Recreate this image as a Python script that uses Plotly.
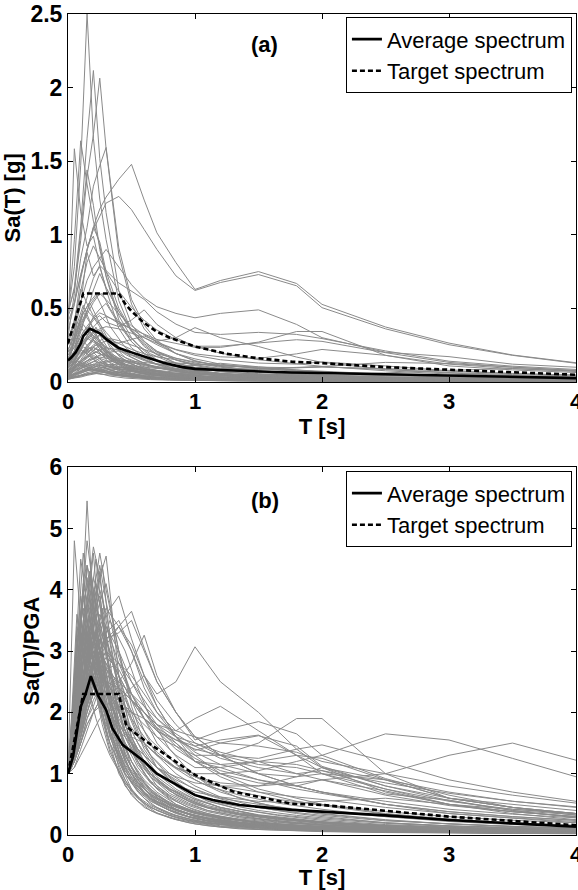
import plotly.graph_objects as go

FONT = "Liberation Sans, Arial, Helvetica, sans-serif"
GRAY = "#8a8a8a"

# ---------------- data ----------------
PERIODS = [0, 0.05, 0.1, 0.15, 0.2, 0.25, 0.3, 0.4, 0.5, 0.6, 0.7, 0.85,
           1.0, 1.2, 1.5, 1.8, 2.0, 2.5, 3.0, 3.5, 4.0]

# peak ground acceleration of each record [g]
PGA = [0.46, 0.46, 0.48, 0.42, 0.405, 0.45, 0.12, 0.18, 0.08, 0.06,
       0.35, 0.30, 0.33, 0.15, 0.25, 0.20, 0.16, 0.14, 0.12, 0.10,
       0.09, 0.08, 0.07, 0.06, 0.05, 0.05, 0.04, 0.04, 0.03, 0.03,
       0.02, 0.025, 0.11, 0.13, 0.10, 0.09, 0.07, 0.06, 0.15, 0.20,
       0.22, 0.28, 0.30, 0.05, 0.035, 0.08, 0.025, 0.02]

# normalized spectra Sa(T)/PGA of each record, sampled at PERIODS
NORMALIZED_SPECTRA = [
    [1, 1.7, 3.2, 5.45, 3.6, 2.7, 2.1, 1.2, 0.75, 0.52, 0.4, 0.28, 0.21, 0.15, 0.11, 0.085, 0.07, 0.05, 0.04, 0.03, 0.025],
    [1, 1.4, 2.3, 3.6, 4.6, 3.3, 2.5, 1.35, 0.85, 0.6, 0.45, 0.32, 0.24, 0.18, 0.12, 0.09, 0.08, 0.06, 0.045, 0.035, 0.03],
    [1, 1.3, 2.0, 2.9, 3.5, 4.3, 3.3, 1.8, 1.1, 0.75, 0.55, 0.4, 0.3, 0.22, 0.15, 0.11, 0.09, 0.065, 0.05, 0.04, 0.035],
    [1, 2.3, 3.9, 3.2, 2.6, 2.2, 1.7, 1.0, 0.65, 0.45, 0.35, 0.25, 0.18, 0.13, 0.09, 0.07, 0.06, 0.045, 0.035, 0.03, 0.025],
    [1, 1.3, 1.8, 2.2, 2.6, 2.9, 3.1, 3.4, 3.65, 3.05, 2.5, 2.0, 1.55, 1.7, 1.85, 1.65, 1.3, 0.92, 0.65, 0.45, 0.32],
    [1, 1.2, 1.6, 2.0, 2.3, 2.5, 2.7, 2.8, 2.6, 2.3, 2.0, 1.6, 1.38, 1.5, 1.62, 1.45, 1.12, 0.8, 0.56, 0.4, 0.28],
    [1, 1.2, 1.5, 1.8, 2.0, 2.2, 2.3, 2.2, 2.4, 2.6, 2.3, 2.5, 3.07, 2.5, 2.0, 1.4, 1.1, 0.7, 0.5, 0.35, 0.25],
    [1, 1.3, 1.7, 2.1, 2.4, 2.6, 2.5, 2.2, 2.0, 1.8, 1.6, 1.45, 1.3, 1.3, 1.5, 1.9, 1.9, 1.0, 0.6, 0.45, 0.35],
    [1, 1.2, 1.5, 1.8, 2.0, 2.1, 2.0, 1.8, 1.6, 1.5, 1.3, 1.1, 1.0, 1.0, 1.05, 1.2, 1.3, 1.65, 1.55, 1.25, 0.95],
    [1, 1.3, 1.6, 2.0, 2.3, 2.2, 2.0, 1.7, 1.5, 1.3, 1.1, 0.95, 0.85, 0.8, 0.8, 0.85, 0.9, 1.0, 1.3, 1.5, 1.22],
    [1, 1.5, 2.4, 3.0, 3.8, 4.2, 4.55, 2.6, 1.6, 1.1, 0.8, 0.55, 0.4, 0.3, 0.2, 0.15, 0.12, 0.09, 0.07, 0.05, 0.04],
    [1, 2.0, 3.4, 4.8, 4.0, 3.0, 2.4, 1.5, 1.0, 0.7, 0.5, 0.35, 0.26, 0.19, 0.13, 0.1, 0.08, 0.06, 0.045, 0.035, 0.03],
    [1, 4.8, 3.5, 2.8, 3.0, 2.4, 1.9, 1.1, 0.7, 0.5, 0.36, 0.26, 0.2, 0.14, 0.1, 0.08, 0.065, 0.05, 0.04, 0.03, 0.025],
    [1, 1.4, 1.9, 2.4, 2.8, 3.0, 2.7, 2.5, 2.8, 3.26, 2.6, 2.0, 1.6, 1.3, 1.0, 0.8, 0.7, 0.5, 0.35, 0.27, 0.2],
    [1, 1.6, 2.8, 3.6, 4.2, 3.8, 3.0, 2.0, 1.4, 1.0, 0.75, 0.5, 0.38, 0.28, 0.2, 0.15, 0.12, 0.09, 0.07, 0.05, 0.04],
    [1, 1.8, 2.6, 4.4, 3.6, 3.9, 3.2, 2.4, 1.7, 1.3, 1.0, 0.75, 0.58, 0.45, 0.32, 0.24, 0.2, 0.14, 0.1, 0.08, 0.06],
    [1, 1.5, 2.2, 3.0, 3.9, 4.6, 4.0, 3.0, 2.2, 1.7, 1.3, 1.0, 0.8, 0.62, 0.45, 0.35, 0.3, 0.2, 0.15, 0.11, 0.09],
    [1, 2.5, 4.5, 3.8, 3.2, 2.8, 2.4, 1.7, 1.2, 0.9, 0.7, 0.5, 0.38, 0.28, 0.2, 0.15, 0.12, 0.08, 0.06, 0.045, 0.035],
    [1, 1.4, 2.0, 2.6, 3.1, 3.5, 3.7, 3.4, 3.0, 2.5, 2.1, 1.6, 1.3, 1.0, 0.75, 0.6, 0.5, 0.35, 0.26, 0.2, 0.16],
    [1, 1.3, 1.8, 2.4, 2.9, 3.2, 3.0, 2.6, 2.2, 1.9, 1.7, 1.5, 1.2, 1.1, 0.9, 0.75, 0.68, 0.5, 0.38, 0.3, 0.24],
    [1, 1.6, 2.5, 3.3, 3.0, 2.7, 2.3, 1.8, 1.5, 1.3, 1.1, 0.9, 0.75, 0.6, 0.5, 0.42, 0.38, 0.3, 0.22, 0.17, 0.14],
    [1, 1.2, 1.6, 2.0, 2.4, 2.7, 2.9, 2.7, 2.3, 2.0, 1.8, 1.6, 1.5, 1.35, 1.2, 1.0, 0.9, 0.65, 0.48, 0.38, 0.3],
    [1, 1.5, 2.0, 2.7, 3.3, 3.0, 2.5, 1.9, 1.5, 1.2, 1.0, 0.82, 0.7, 0.62, 0.55, 0.52, 0.55, 0.6, 0.5, 0.42, 0.35],
    [1, 1.3, 1.7, 2.2, 2.6, 3.0, 3.3, 3.5, 3.0, 2.4, 2.0, 1.7, 1.9, 2.1, 1.7, 1.3, 1.1, 0.8, 0.6, 0.5, 0.4],
    [1, 1.1, 1.4, 1.7, 2.0, 2.2, 2.3, 2.4, 2.2, 2.0, 1.8, 1.7, 1.6, 1.5, 1.45, 1.35, 1.2, 1.0, 0.8, 0.65, 0.52],
    [1, 2.0, 3.0, 4.2, 3.4, 2.8, 2.2, 1.5, 1.0, 0.75, 0.6, 0.45, 0.35, 0.28, 0.2, 0.16, 0.14, 0.1, 0.08, 0.06, 0.05],
    [1, 1.4, 2.2, 2.8, 3.5, 4.0, 3.6, 2.6, 1.9, 1.4, 1.1, 0.85, 0.66, 0.52, 0.4, 0.32, 0.28, 0.2, 0.15, 0.12, 0.1],
    [1, 1.2, 1.5, 1.9, 2.1, 2.4, 2.6, 2.5, 2.3, 2.1, 1.9, 1.65, 1.45, 1.25, 1.1, 1.0, 1.05, 0.85, 0.68, 0.55, 0.46],
    [1, 1.7, 2.6, 3.2, 4.0, 3.5, 2.9, 2.2, 1.6, 1.2, 0.95, 0.72, 0.58, 0.45, 0.33, 0.26, 0.22, 0.16, 0.12, 0.09, 0.07],
    [1, 1.3, 1.9, 2.5, 2.8, 3.1, 3.4, 3.0, 2.5, 2.1, 1.8, 1.5, 1.25, 1.05, 0.9, 0.8, 0.7, 0.55, 0.42, 0.34, 0.28],
    [1, 1.5, 2.0, 2.6, 3.0, 2.6, 2.4, 2.0, 1.7, 1.5, 1.3, 1.1, 0.95, 0.8, 0.7, 0.62, 0.58, 0.45, 0.35, 0.28, 0.22],
    [1, 1.2, 1.6, 2.1, 2.5, 2.9, 3.2, 3.4, 3.1, 2.6, 2.2, 1.8, 1.5, 1.3, 1.15, 1.1, 1.0, 0.75, 0.55, 0.42, 0.35],
    [1, 1.9, 3.6, 4.4, 4.0, 3.4, 2.6, 1.6, 1.1, 0.8, 0.6, 0.42, 0.32, 0.24, 0.17, 0.13, 0.11, 0.08, 0.06, 0.05, 0.04],
    [1, 1.4, 2.1, 2.7, 3.4, 3.8, 4.1, 3.0, 2.1, 1.5, 1.1, 0.8, 0.6, 0.45, 0.32, 0.25, 0.21, 0.15, 0.11, 0.085, 0.07],
    [1, 1.3, 1.7, 2.1, 2.5, 2.8, 3.0, 2.8, 2.5, 2.2, 1.9, 1.6, 1.35, 1.15, 1.0, 0.95, 1.0, 0.9, 0.7, 0.55, 0.45],
    [1, 1.6, 2.4, 2.2, 2.6, 2.4, 2.0, 1.5, 1.1, 0.85, 0.65, 0.48, 0.36, 0.27, 0.19, 0.14, 0.12, 0.08, 0.06, 0.045, 0.035],
    [1, 1.1, 1.3, 1.5, 1.7, 1.9, 2.0, 2.1, 2.0, 1.9, 1.75, 1.55, 1.4, 1.3, 1.25, 1.4, 1.47, 1.2, 0.9, 0.7, 0.55],
    [1, 1.8, 2.9, 3.8, 4.7, 4.2, 3.5, 2.3, 1.6, 1.2, 0.9, 0.65, 0.5, 0.38, 0.27, 0.2, 0.17, 0.12, 0.09, 0.07, 0.055],
    [1, 1.2, 1.5, 1.9, 2.2, 2.4, 2.5, 2.4, 2.2, 2.0, 1.75, 1.45, 1.2, 1.0, 0.85, 0.8, 0.9, 0.72, 0.5, 0.38, 0.3],
    [1, 1.3, 1.8, 2.3, 2.7, 3.0, 2.8, 2.3, 1.9, 1.6, 1.35, 1.1, 0.95, 0.85, 0.8, 0.95, 1.1, 0.9, 0.6, 0.45, 0.35],
    [1, 1.4, 2.0, 2.6, 3.2, 3.6, 3.4, 2.8, 2.3, 1.9, 1.6, 1.3, 1.1, 1.1, 1.2, 1.3, 1.25, 0.9, 0.6, 0.45, 0.35],
    [1, 1.5, 2.2, 2.9, 3.3, 3.0, 2.7, 2.4, 2.2, 2.0, 1.7, 1.4, 1.2, 1.15, 1.2, 1.15, 1.05, 0.75, 0.5, 0.38, 0.3],
    [1, 1.3, 1.8, 2.3, 2.6, 2.8, 3.0, 2.6, 2.2, 1.9, 1.7, 1.55, 1.45, 1.55, 1.63, 1.3, 1.0, 0.67, 0.57, 0.4, 0.33],
    [1, 1.4, 2.1, 2.9, 3.6, 3.1, 2.5, 1.7, 1.2, 0.85, 0.62, 0.42, 0.3, 0.22, 0.15, 0.11, 0.09, 0.06, 0.045, 0.035, 0.03],
    [1, 2.2, 3.3, 2.9, 2.5, 2.1, 1.8, 1.3, 0.95, 0.7, 0.55, 0.4, 0.3, 0.22, 0.16, 0.12, 0.1, 0.07, 0.05, 0.04, 0.03],
    [1, 1.5, 2.3, 3.1, 3.7, 4.4, 3.8, 2.9, 2.3, 1.9, 1.5, 1.15, 0.9, 0.7, 0.52, 0.4, 0.35, 0.25, 0.18, 0.14, 0.11],
    [1, 1.3, 1.8, 2.5, 2.9, 3.3, 3.6, 3.9, 3.2, 2.6, 2.1, 1.6, 1.2, 0.95, 0.7, 0.55, 0.48, 0.34, 0.25, 0.19, 0.15],
    [1, 1.2, 1.6, 2.2, 2.7, 3.0, 3.2, 3.3, 3.5, 3.0, 2.5, 2.0, 1.6, 1.3, 1.0, 0.8, 0.7, 0.5, 0.38, 0.3, 0.24],
]

# second group of records, sampled at a second set of periods
PERIODS_2 = [0, 0.03, 0.07, 0.12, 0.17, 0.22, 0.27, 0.33, 0.45, 0.55, 0.65, 0.8,
             0.95, 1.1, 1.35, 1.65, 2.0, 2.5, 3.0, 3.5, 4.0]
PGA_2 = [0.10, 0.08, 0.12, 0.06, 0.05, 0.07, 0.04, 0.09, 0.03, 0.11,
         0.13, 0.05, 0.045, 0.035, 0.025, 0.15, 0.18, 0.07, 0.04, 0.06,
         0.02, 0.09, 0.03, 0.10, 0.055, 0.035, 0.20, 0.14, 0.065, 0.045,
         0.015, 0.11]
NORMALIZED_SPECTRA_2 = [
    [1, 1.5, 2.6, 3.9, 3.3, 2.6, 2.0, 1.5, 0.9, 0.6, 0.45, 0.32, 0.24, 0.19, 0.14, 0.1, 0.075, 0.055, 0.04, 0.032, 0.026],
    [1, 1.3, 2.2, 3.1, 4.3, 3.5, 2.8, 2.0, 1.2, 0.8, 0.6, 0.42, 0.3, 0.23, 0.17, 0.12, 0.09, 0.065, 0.05, 0.04, 0.03],
    [1, 1.8, 3.4, 2.9, 2.5, 3.1, 2.4, 1.7, 1.0, 0.7, 0.5, 0.35, 0.26, 0.2, 0.14, 0.1, 0.08, 0.06, 0.045, 0.035, 0.03],
    [1, 1.2, 1.8, 2.6, 3.2, 3.8, 4.4, 3.2, 1.8, 1.2, 0.85, 0.6, 0.45, 0.35, 0.25, 0.18, 0.13, 0.09, 0.07, 0.055, 0.045],
    [1, 1.6, 2.9, 4.1, 3.6, 2.9, 2.2, 1.6, 1.0, 0.72, 0.55, 0.4, 0.3, 0.24, 0.18, 0.14, 0.11, 0.08, 0.06, 0.05, 0.04],
    [1, 1.4, 2.4, 3.4, 3.0, 3.6, 3.0, 2.3, 1.4, 1.0, 0.75, 0.52, 0.4, 0.32, 0.24, 0.18, 0.14, 0.1, 0.075, 0.06, 0.05],
    [1, 2.0, 3.6, 3.0, 2.3, 1.9, 1.6, 1.3, 0.85, 0.62, 0.48, 0.34, 0.26, 0.2, 0.15, 0.11, 0.085, 0.06, 0.045, 0.035, 0.03],
    [1, 1.3, 2.0, 2.8, 3.5, 3.2, 3.7, 2.6, 1.6, 1.15, 0.88, 0.65, 0.5, 0.4, 0.3, 0.23, 0.18, 0.13, 0.1, 0.08, 0.065],
    [1, 1.5, 2.5, 3.3, 2.8, 2.4, 2.7, 2.2, 1.5, 1.1, 0.85, 0.62, 0.48, 0.38, 0.28, 0.21, 0.16, 0.11, 0.085, 0.07, 0.055],
    [1, 1.2, 1.7, 2.3, 2.9, 3.3, 2.9, 2.4, 1.7, 1.3, 1.0, 0.75, 0.58, 0.45, 0.33, 0.25, 0.19, 0.13, 0.1, 0.08, 0.065],
    [1, 1.7, 3.0, 4.0, 3.2, 2.5, 1.9, 1.4, 0.8, 0.55, 0.4, 0.28, 0.2, 0.15, 0.1, 0.075, 0.055, 0.04, 0.03, 0.025, 0.02],
    [1, 1.3, 2.1, 2.9, 3.7, 4.5, 3.6, 2.5, 1.3, 0.9, 0.65, 0.45, 0.34, 0.26, 0.19, 0.14, 0.1, 0.07, 0.055, 0.045, 0.035],
    [1, 1.6, 2.7, 3.5, 3.9, 3.0, 2.3, 1.8, 1.2, 0.9, 0.7, 0.52, 0.4, 0.32, 0.24, 0.18, 0.14, 0.1, 0.08, 0.065, 0.05],
    [1, 1.2, 1.6, 2.2, 2.7, 3.0, 3.3, 3.0, 2.3, 1.7, 1.3, 0.95, 0.72, 0.56, 0.42, 0.32, 0.24, 0.17, 0.13, 0.1, 0.08],
    [1, 1.4, 2.3, 3.0, 3.4, 3.1, 2.7, 2.2, 1.6, 1.25, 1.0, 0.76, 0.6, 0.48, 0.36, 0.28, 0.21, 0.15, 0.115, 0.09, 0.075],
    [1, 1.4, 2.2, 3.1, 3.6, 3.0, 2.4, 1.8, 1.1, 0.78, 0.58, 0.4, 0.3, 0.23, 0.16, 0.12, 0.09, 0.065, 0.05, 0.04, 0.03],
    [1, 1.3, 1.9, 2.6, 3.0, 3.3, 2.8, 2.1, 1.3, 0.95, 0.72, 0.5, 0.38, 0.3, 0.21, 0.15, 0.11, 0.08, 0.06, 0.05, 0.04],
    [1, 1.5, 2.5, 3.0, 3.3, 2.9, 2.6, 2.4, 1.9, 1.5, 1.2, 0.9, 0.7, 0.55, 0.42, 0.33, 0.26, 0.19, 0.14, 0.11, 0.09],
    [1, 1.1, 1.5, 2.0, 2.5, 2.9, 3.1, 3.5, 3.0, 2.4, 1.9, 1.4, 1.05, 0.82, 0.6, 0.45, 0.34, 0.24, 0.18, 0.14, 0.11],
    [1, 1.9, 3.2, 4.6, 3.8, 3.0, 2.3, 1.7, 1.05, 0.75, 0.56, 0.4, 0.3, 0.23, 0.17, 0.13, 0.1, 0.07, 0.055, 0.045, 0.035],
    [1, 1.3, 1.9, 2.5, 2.9, 3.2, 3.5, 3.0, 2.1, 1.6, 1.3, 1.0, 0.8, 0.65, 0.5, 0.4, 0.32, 0.23, 0.18, 0.14, 0.11],
    [1, 1.6, 2.8, 3.8, 4.2, 3.4, 2.6, 1.9, 1.2, 0.85, 0.64, 0.46, 0.35, 0.27, 0.2, 0.15, 0.11, 0.08, 0.06, 0.05, 0.04],
    [1, 1.2, 1.7, 2.3, 2.6, 2.8, 2.6, 2.3, 1.9, 1.6, 1.4, 1.15, 0.95, 0.8, 0.65, 0.52, 0.42, 0.3, 0.23, 0.18, 0.15],
    [1, 1.5, 2.4, 2.6, 3.0, 2.7, 2.2, 1.7, 1.15, 0.85, 0.66, 0.5, 0.4, 0.33, 0.26, 0.2, 0.16, 0.12, 0.09, 0.07, 0.06],
    [1, 1.3, 2.0, 2.8, 3.3, 3.7, 3.3, 2.7, 1.8, 1.3, 0.98, 0.72, 0.55, 0.44, 0.34, 0.26, 0.2, 0.14, 0.11, 0.085, 0.07],
    [1, 1.8, 3.1, 3.7, 3.1, 2.6, 2.1, 1.6, 1.05, 0.78, 0.6, 0.45, 0.35, 0.28, 0.21, 0.16, 0.12, 0.085, 0.065, 0.05, 0.04],
    [1, 1.2, 1.6, 2.1, 2.6, 2.9, 3.0, 2.5, 1.7, 1.25, 0.95, 0.68, 0.52, 0.4, 0.3, 0.22, 0.16, 0.11, 0.085, 0.065, 0.05],
    [1, 1.5, 2.5, 3.4, 2.9, 2.3, 1.8, 1.35, 0.85, 0.6, 0.45, 0.32, 0.24, 0.19, 0.14, 0.1, 0.075, 0.055, 0.04, 0.032, 0.026],
    [1, 1.2, 1.5, 1.9, 2.3, 2.6, 2.9, 2.7, 2.2, 1.85, 1.55, 1.25, 1.0, 0.85, 0.7, 0.58, 0.5, 0.38, 0.3, 0.24, 0.2],
    [1, 1.7, 2.6, 2.3, 2.7, 2.3, 1.9, 1.5, 1.0, 0.75, 0.58, 0.44, 0.34, 0.27, 0.2, 0.15, 0.11, 0.08, 0.06, 0.048, 0.04],
    [1, 1.4, 2.2, 3.0, 3.6, 4.1, 3.5, 2.6, 1.7, 1.3, 1.0, 0.75, 0.58, 0.46, 0.35, 0.27, 0.21, 0.15, 0.11, 0.09, 0.07],
    [1, 1.3, 1.9, 2.5, 3.1, 2.7, 2.3, 2.0, 1.5, 1.2, 0.95, 0.72, 0.56, 0.45, 0.34, 0.26, 0.2, 0.14, 0.1, 0.08, 0.065],
]

# panel (a): Sa(T) [g]
AVG_A_T = [0, 0.025, 0.06, 0.1, 0.12, 0.15, 0.17, 0.2, 0.25, 0.3, 0.35, 0.4, 0.5, 0.6, 0.75, 0.9,
           1.0, 1.2, 1.5, 1.76, 2.0, 2.5, 3.0, 3.5, 4.0]
AVG_A = [0.145, 0.165, 0.2, 0.26, 0.31, 0.34, 0.36, 0.35, 0.33, 0.29, 0.26, 0.23, 0.2, 0.17, 0.13, 0.1,
         0.088, 0.08, 0.07, 0.063, 0.06, 0.05, 0.04, 0.032, 0.025]
TARGET_A_T = [0, 0.12, 0.4, 0.45, 0.5, 0.6, 0.7, 0.8, 1.0, 1.25, 1.5, 1.76, 2.0, 2.5, 3.0, 3.5, 4.0]
TARGET_A = [0.26, 0.6, 0.6, 0.53, 0.48, 0.4, 0.34, 0.3, 0.24, 0.19, 0.16, 0.137, 0.127, 0.1, 0.082, 0.065, 0.048]

# panel (b): Sa(T)/PGA
AVG_B_T = [0, 0.04, 0.08, 0.1, 0.14, 0.18, 0.235, 0.3, 0.35, 0.43, 0.6, 0.7, 0.88, 1.0, 1.14, 1.35,
           1.76, 2.0, 2.5, 3.0, 3.5, 4.0]
AVG_B = [1.0, 1.28, 1.82, 2.09, 2.31, 2.59, 2.28, 2.04, 1.74, 1.47, 1.2, 1.0, 0.79, 0.65, 0.57, 0.49,
         0.41, 0.38, 0.32, 0.245, 0.19, 0.135]
TARGET_B_T = [0, 0.12, 0.4, 0.46, 0.6, 0.79, 1.0, 1.3, 1.76, 2.0, 2.5, 3.0, 3.5, 4.0]
TARGET_B = [1.0, 2.3, 2.3, 1.77, 1.55, 1.28, 0.98, 0.71, 0.51, 0.49, 0.39, 0.3, 0.23, 0.16]

X_TICKS = [0, 1, 2, 3, 4]
X_TICK_TEXT = ["0", "1", "2", "3", "4"]
Y_TICKS_A = [0, 0.5, 1, 1.5, 2, 2.5]
Y_TICK_TEXT_A = ["0", "0.5", "1", "1.5", "2", "2.5"]
Y_TICKS_B = [0, 1, 2, 3, 4, 5, 6]

# ---------------- figure ----------------
fig = go.Figure()

for periods, pgas, spectra in ((PERIODS, PGA, NORMALIZED_SPECTRA),
                               (PERIODS_2, PGA_2, NORMALIZED_SPECTRA_2)):
    for pga, spec in zip(pgas, spectra):
        fig.add_trace(go.Scatter(x=periods, y=[v * pga for v in spec], mode="lines",
                                 line=dict(color=GRAY, width=1), showlegend=False,
                                 hoverinfo="skip", xaxis="x", yaxis="y"))
        fig.add_trace(go.Scatter(x=periods, y=spec, mode="lines",
                                 line=dict(color=GRAY, width=1), showlegend=False,
                                 hoverinfo="skip", xaxis="x2", yaxis="y2"))

fig.add_trace(go.Scatter(x=AVG_A_T, y=AVG_A, mode="lines", name="Average spectrum",
                         line=dict(color="black", width=2.6), xaxis="x", yaxis="y",
                         legend="legend"))
fig.add_trace(go.Scatter(x=TARGET_A_T, y=TARGET_A, mode="lines", name="Target spectrum",
                         line=dict(color="black", width=2.6, dash="5px,3px"), xaxis="x", yaxis="y",
                         legend="legend"))
fig.add_trace(go.Scatter(x=AVG_B_T, y=AVG_B, mode="lines", name="Average spectrum",
                         line=dict(color="black", width=2.6), xaxis="x2", yaxis="y2",
                         legend="legend2"))
fig.add_trace(go.Scatter(x=TARGET_B_T, y=TARGET_B, mode="lines", name="Target spectrum",
                         line=dict(color="black", width=2.6, dash="5px,3px"), xaxis="x2", yaxis="y2",
                         legend="legend2"))

ytickfont = dict(family=FONT, size=23, color="black", weight="bold")
xtickfont = dict(family=FONT, size=22, color="black", weight="bold")
titlefont = dict(family=FONT, size=22, color="black", weight="bold")
axis_common = dict(ticks="inside", ticklen=5, tickwidth=1, tickcolor="black",
                   showline=True, linecolor="black", linewidth=1, mirror="ticks",
                   showgrid=False, zeroline=False, automargin=False)

legend_common = dict(font=dict(family=FONT, size=22, color="black"),
                     bgcolor="white", bordercolor="black", borderwidth=1,
                     xanchor="right", yanchor="top", tracegroupgap=0,
                     itemwidth=30)

# the last x tick label sits on the page edge and is cut there, as in the original
edge_labels = []
for xref, yref in (("x", "y"), ("x2", "y2")):
    edge_labels.append(dict(x=X_TICKS[-1], y=0, xref=xref, yref=yref, text=X_TICK_TEXT[-1],
                            showarrow=False, yanchor="top", yshift=-5,
                            font=xtickfont))

fig.update_layout(
    width=578, height=890,
    margin=dict(l=68, r=2, t=14, b=55),
    paper_bgcolor="white", plot_bgcolor="white",
    font=dict(family=FONT, color="black"),
    xaxis=dict(domain=[0, 1], anchor="y", range=[0, 4], tickvals=X_TICKS, ticktext=X_TICK_TEXT,
               tickfont=xtickfont,
               title=dict(text="T [s]", font=titlefont, standoff=1), **axis_common),
    yaxis=dict(domain=[0.552, 1], anchor="x", range=[0, 2.5], tickvals=Y_TICKS_A,
               ticktext=Y_TICK_TEXT_A, tickfont=ytickfont,
               title=dict(text="Sa(T) [g]", font=titlefont, standoff=3), **axis_common),
    xaxis2=dict(domain=[0, 1], anchor="y2", range=[0, 4], tickvals=X_TICKS, ticktext=X_TICK_TEXT,
                tickfont=xtickfont,
                title=dict(text="T [s]", font=titlefont, standoff=1), **axis_common),
    yaxis2=dict(domain=[0, 0.448], anchor="x2", range=[0, 6], tickvals=Y_TICKS_B,
                tickfont=ytickfont,
                title=dict(text="Sa(T)/PGA", font=titlefont, standoff=3), **axis_common),
    legend=dict(x=0.992, y=0.996, **legend_common),
    legend2=dict(x=0.992, y=0.443, **legend_common),
    annotations=[
        dict(x=1.55, y=2.29, xref="x", yref="y", text="(a)", showarrow=False,
             font=dict(family=FONT, size=22, color="black", weight="bold")),
        dict(x=1.55, y=5.46, xref="x2", yref="y2", text="(b)", showarrow=False,
             font=dict(family=FONT, size=22, color="black", weight="bold")),
    ] + edge_labels,
)

fig.write_html("out.html")
